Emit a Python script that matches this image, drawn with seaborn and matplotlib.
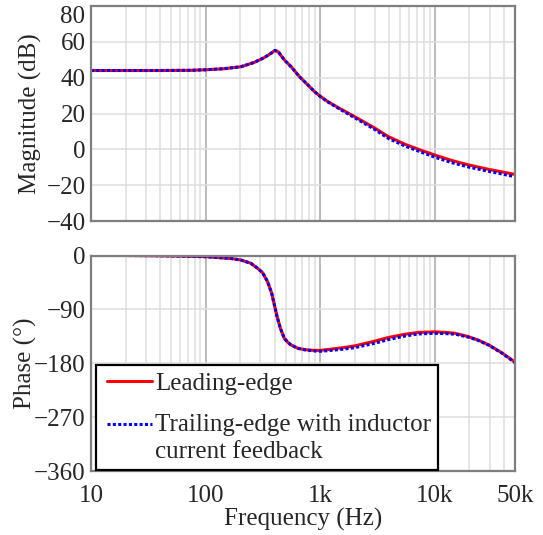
import numpy as np
import pandas as pd
import matplotlib
matplotlib.use("Agg")
import matplotlib.pyplot as plt
import seaborn as sns
from matplotlib.ticker import NullFormatter, FixedLocator, LogLocator
from matplotlib.legend_handler import HandlerLine2D

# ---------------- data ----------------
series_names = ["Leading-edge", "Trailing-edge with inductor\ncurrent feedback"]

freq_mag = [10, 20, 40, 74, 100, 145, 203, 265, 325, 372, 390, 403, 431, 455,
            486, 557, 660, 780, 891, 1000, 1167, 1500, 2000, 3000, 3926,
            5500, 7200, 10000, 14000, 19700, 29600, 40000, 50000]
lead_mag = [44, 44, 44, 44.1, 44.4, 45.0, 46.1, 48.5, 51.2, 53.6, 54.6, 55.2, 54.4, 52.3,
            49.9, 46.1, 40.5, 35.9, 32.2, 29.6, 26.6, 22.6, 18.2, 11.8, 7.1,
            2.8, 0.0, -3.2, -6.2, -8.7, -11.2, -12.8, -14.0]
trail_mag = [44, 44, 44, 44.1, 44.4, 45.0, 46.1, 48.5, 51.2, 53.6, 54.6, 55.2, 54.4, 52.3,
             49.9, 46.1, 40.5, 35.9, 32.2, 29.5, 26.4, 22.2, 17.6, 11.0, 6.1,
             1.8, -1.0, -4.4, -7.4, -9.9, -12.3, -14.0, -15.3]

freq_ph = [10, 20, 40, 60, 100, 166, 203, 248, 284, 314, 347, 377, 398, 420,
           449, 486, 521, 557, 637, 750, 891, 1000, 1167, 1500, 2000, 3000, 3926,
           5500, 7200, 10000, 12500, 15100, 19700, 24000, 29600, 38000, 50000]
lead_ph = [0, 0, -0.5, -1, -2, -5, -7.5, -13, -21.4, -28.7, -43.7, -63, -82.7, -102,
           -121.7, -138.4, -145, -149.5, -155, -157.5, -158.5, -158.5, -157, -154.5, -151, -143, -137,
           -131.5, -128.5, -127.5, -128.5, -130, -135.7, -141.5, -149.5, -162, -178]
trail_ph = [0, 0, -0.5, -1, -2, -5, -7.5, -13, -21.4, -28.7, -43.7, -63, -82.7, -102,
            -121.7, -138.4, -145, -149.5, -155, -158, -159.5, -160, -159, -157, -154, -146.5, -140.5,
            -134.5, -131, -130, -130.5, -131.5, -136.5, -142, -150, -162.5, -179]

xtick_vals = [10, 100, 1000, 10000, 50000]
xtick_labels = ["10", "100", "1k", "10k", "50k"]
mag_ticks = [-40, -20, 0, 20, 40, 60, 80]
ph_ticks = [-360, -270, -180, -90, 0]

colors = {series_names[0]: "#ff0000", series_names[1]: "#0000ff"}
dash_map = {series_names[0]: "", series_names[1]: (1.0, 0.75)}

df_mag = pd.concat([
    pd.DataFrame({"f": freq_mag, "v": lead_mag, "series": series_names[0]}),
    pd.DataFrame({"f": freq_mag, "v": trail_mag, "series": series_names[1]}),
], ignore_index=True)
df_ph = pd.concat([
    pd.DataFrame({"f": freq_ph, "v": lead_ph, "series": series_names[0]}),
    pd.DataFrame({"f": freq_ph, "v": trail_ph, "series": series_names[1]}),
], ignore_index=True)

# ---------------- style ----------------
sns.set_style("white")
plt.rcParams["font.family"] = ["Liberation Serif", "DejaVu Serif"]
FS = 18

fig = plt.figure(figsize=(5.43, 5.35), dpi=100)
ax1 = fig.add_axes([91 / 543, 1 - 221 / 535, 424 / 543, 215 / 535])
ax2 = fig.add_axes([91 / 543, 1 - 471 / 535, 424 / 543, 215.5 / 535])

for ax, df, yt, ylim, ylabel, lx in [
    (ax1, df_mag, mag_ticks, (-40, 80), "Magnitude (dB)", -0.115),
    (ax2, df_ph, ph_ticks, (-360, 0), "Phase (°)", -0.127),
]:
    sns.lineplot(data=df, x="f", y="v", hue="series", style="series",
                 hue_order=series_names, style_order=series_names,
                 palette=colors, dashes=dash_map, linewidth=2.2,
                 estimator=None, sort=True, ax=ax, legend=(ax is ax2))
    ax.set_xscale("log")
    ax.set_xlim(10, 50000)
    ax.set_ylim(*ylim)
    ax.set_yticks(yt)
    ax.set_yticklabels([str(t).replace("-", "\u2212") for t in yt])
    ax.xaxis.set_major_locator(FixedLocator(xtick_vals))
    ax.xaxis.set_minor_locator(LogLocator(base=10, subs=np.arange(2, 10), numticks=20))
    ax.xaxis.set_minor_formatter(NullFormatter())
    ax.grid(False)
    ax.grid(True, which="minor", axis="x", color="#dedede", linewidth=1.1, zorder=0)
    ax.grid(True, which="major", axis="x", color="#a8a8a8", linewidth=1.1, zorder=0)
    ax.grid(True, which="major", axis="y", color="#dedede", linewidth=1.1, zorder=0)
    ax.set_axisbelow(True)
    for s in ax.spines.values():
        s.set_color("#7f7f7f")
        s.set_linewidth(1.6)
    ax.tick_params(which="both", length=0, labelsize=FS, pad=4)
    ax.set_xlabel("")
    ax.set_ylabel(ylabel, fontsize=FS)
    ax.yaxis.set_label_coords(lx, 0.5)

# keep the top "80" label inside the figure, as in the reference
ax1.get_yticklabels()[-1].set_verticalalignment("top")

ax1.set_xticklabels([])
ax2.set_xticklabels(xtick_labels)
ax2.tick_params(axis="x", pad=10)
ax2.set_xlabel("Frequency (Hz)", fontsize=FS, labelpad=1)


class ShiftHandler(HandlerLine2D):
    """Shift the legend line (x: right inset, y: align to first text line)."""
    def __init__(self, dx, dy, **kw):
        super().__init__(**kw)
        self.dx = dx
        self.dy = dy

    def create_artists(self, legend, orig_handle, xdescent, ydescent, width,
                       height, fontsize, trans):
        arts = super().create_artists(legend, orig_handle, xdescent, ydescent,
                                      width, height, fontsize, trans)
        for a in arts:
            xd = np.asarray(a.get_xdata(), dtype=float)
            xd = np.array([xd.min() + self.dx, xd.max()])
            a.set_data(xd, np.full(2, np.asarray(a.get_ydata(), dtype=float).mean() + self.dy))
        return arts


handles, labels = ax2.get_legend_handles_labels()
ax2.legend_.remove()
leg = ax2.legend(handles, labels, loc="upper left", bbox_to_anchor=(0.0118, 0.492),
                 borderaxespad=0, fontsize=FS, frameon=True, fancybox=False,
                 edgecolor="black", framealpha=1, handlelength=1.95,
                 handletextpad=0.1, borderpad=0.3, labelspacing=0.78,
                 handler_map={handles[0]: ShiftHandler(2.2, 0.0),
                              handles[1]: ShiftHandler(2.2, 10.3)})
leg.get_frame().set_linewidth(1.6)
for t in leg.get_texts():
    t.set_linespacing(1.24)
for h in leg.get_lines():
    h.set_linewidth(2.2)

fig.savefig("out.png", dpi=100)
